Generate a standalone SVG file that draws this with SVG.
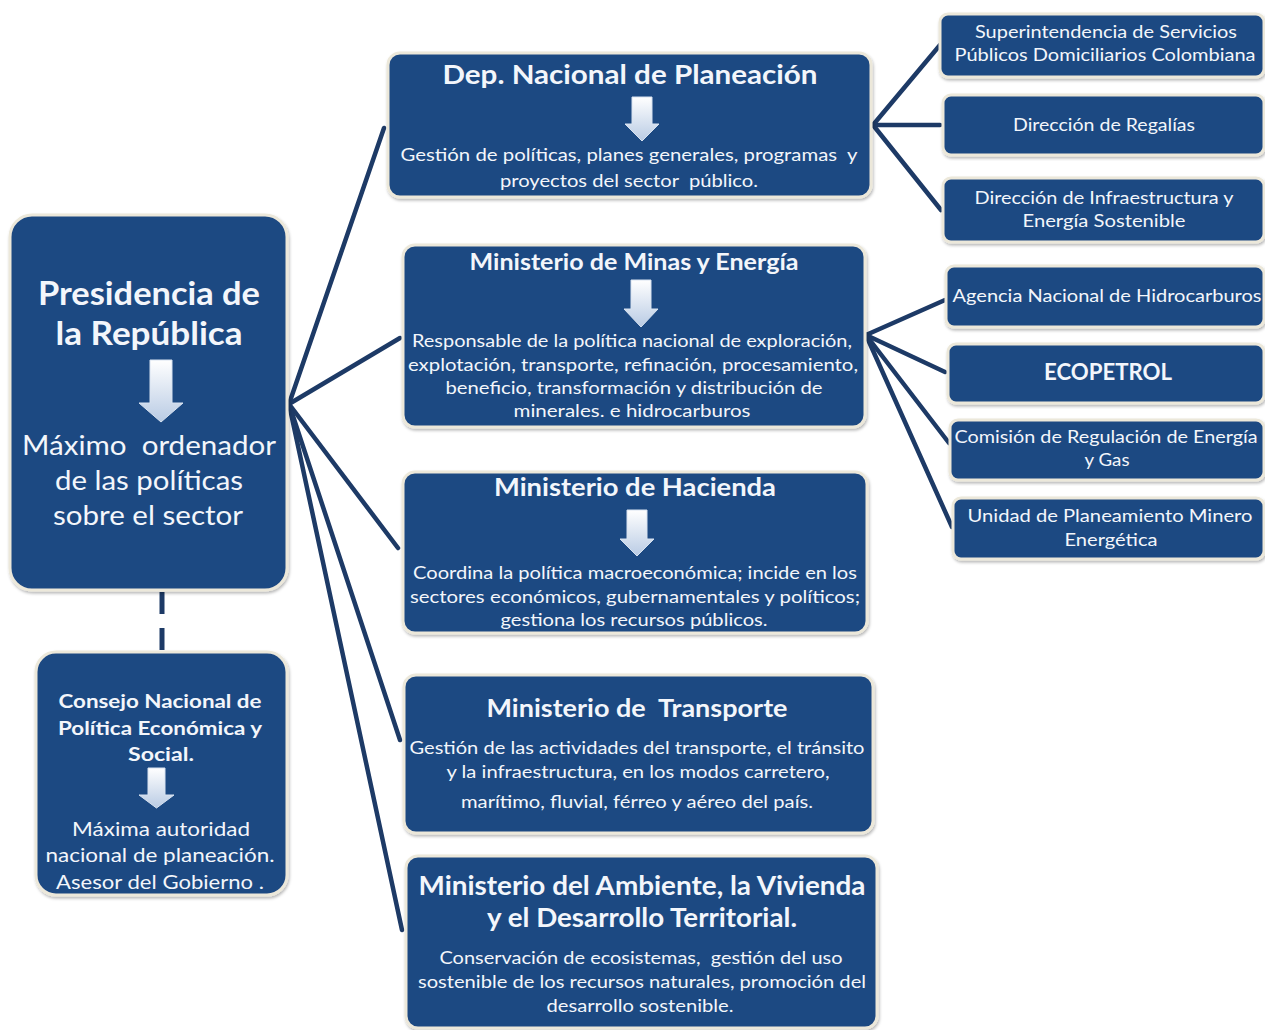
<svg xmlns="http://www.w3.org/2000/svg" width="1265" height="1030" viewBox="0 0 1265 1030">
  <defs>
    <linearGradient id="arrowFill" x1="0" y1="0" x2="0" y2="1">
      <stop offset="0" stop-color="#ffffff"/>
      <stop offset="1" stop-color="#b9cbe4"/>
    </linearGradient>
    <filter id="soft" x="-5%" y="-5%" width="110%" height="115%">
      <feDropShadow dx="1" dy="2" stdDeviation="1.5" flood-color="#000" flood-opacity="0.28"/>
    </filter>
  </defs>
  <style>
    .box { fill: #1f4882; stroke: #ece8da; stroke-width: 3; filter: url(#soft); }
    .link { stroke: #1d3a66; stroke-width: 4.5; fill: none; stroke-linecap: round; }
    .dash { stroke: #1d3a66; stroke-width: 5; fill: none; stroke-dasharray: 22 14; }
    .arrow { fill: url(#arrowFill); stroke: #d7e2f0; stroke-width: 1; }
    text { font-family: Lato, "Open Sans", "Liberation Sans", sans-serif; fill: #f3f6fb; text-anchor: middle; white-space: pre; }
    .b { font-weight: bold; }
    .t18 { font-size: 18px; }
    .t19 { font-size: 19px; }
    .t20 { font-size: 20px; }
    .t22 { font-size: 22px; }
    .t25 { font-size: 25px; }
    .t27 { font-size: 27px; }
    .t32 { font-size: 32px; }
  </style>
  <rect width="1265" height="1030" fill="#ffffff"/>

  <!-- connectors -->
  <g id="connectors">
    <line class="link" x1="289" y1="404" x2="384" y2="128"/>
    <line class="link" x1="289" y1="404" x2="400" y2="338"/>
    <line class="link" x1="289" y1="404" x2="398" y2="548"/>
    <line class="link" x1="289" y1="404" x2="400" y2="740"/>
    <line class="link" x1="289" y1="404" x2="402" y2="930"/>
    <line class="dash" x1="162" y1="592" x2="162" y2="651"/>
    <line class="link" x1="873" y1="125" x2="940" y2="45"/>
    <line class="link" x1="873" y1="125" x2="940" y2="125"/>
    <line class="link" x1="873" y1="125" x2="941" y2="210"/>
    <line class="link" x1="866" y1="335" x2="945" y2="300"/>
    <line class="link" x1="866" y1="335" x2="945" y2="372"/>
    <line class="link" x1="866" y1="335" x2="949" y2="443"/>
    <line class="link" x1="866" y1="335" x2="952" y2="527"/>
  </g>

  <!-- central node -->
  <g id="presidencia">
    <rect class="box" x="10" y="215" width="277" height="375" rx="22"/>
    <text class="b t32" x="149" y="305" textLength="222" lengthAdjust="spacingAndGlyphs">Presidencia de</text>
    <text class="b t32" x="149" y="345" textLength="187" lengthAdjust="spacingAndGlyphs">la República</text>
    <path class="arrow" d="M150 360 H172 V403 H183 L161 422 L139 403 H150 Z"/>
    <text class="t27" x="149" y="455" textLength="254" lengthAdjust="spacingAndGlyphs">Máximo  ordenador</text>
    <text class="t27" x="149" y="490" textLength="188" lengthAdjust="spacingAndGlyphs">de las políticas</text>
    <text class="t27" x="148" y="525" textLength="190" lengthAdjust="spacingAndGlyphs">sobre el sector</text>
  </g>

  <g id="consejo">
    <rect class="box" x="36" y="652" width="251" height="243" rx="20"/>
    <text class="b t19" x="160" y="708" textLength="203" lengthAdjust="spacingAndGlyphs">Consejo Nacional de</text>
    <text class="b t19" x="160" y="735" textLength="204" lengthAdjust="spacingAndGlyphs">Política Económica y</text>
    <text class="b t19" x="161" y="761" textLength="66" lengthAdjust="spacingAndGlyphs">Social.</text>
    <path class="arrow" d="M148 768 H165 V795 H174 L156.5 808 L139 795 H148 Z"/>
    <text class="t20" x="161" y="836" textLength="178" lengthAdjust="spacingAndGlyphs">Máxima autoridad</text>
    <text class="t20" x="160" y="862" textLength="229" lengthAdjust="spacingAndGlyphs">nacional de planeación.</text>
    <text class="t20" x="160" y="889" textLength="208" lengthAdjust="spacingAndGlyphs">Asesor del Gobierno .</text>
  </g>

  <!-- second level -->
  <g id="planeacion">
    <rect class="box" x="388" y="53" width="483" height="144" rx="12"/>
    <text class="b t27" x="630" y="84" textLength="375" lengthAdjust="spacingAndGlyphs">Dep. Nacional de Planeación</text>
    <path class="arrow" d="M632 97 H652 V124 H659 L642 141 L625 124 H632 Z"/>
    <text class="t18" x="629" y="161" textLength="457" lengthAdjust="spacingAndGlyphs">Gestión de políticas, planes generales, programas  y</text>
    <text class="t18" x="629" y="187" textLength="258" lengthAdjust="spacingAndGlyphs">proyectos del sector  público.</text>
  </g>

  <g id="minas">
    <rect class="box" x="403" y="245" width="462" height="182" rx="12"/>
    <text class="b t22" x="634" y="270" textLength="329" lengthAdjust="spacingAndGlyphs">Ministerio de Minas y Energía</text>
    <path class="arrow" d="M631 280 H651 V309 H658 L641 327 L624 309 H631 Z"/>
    <text class="t18" x="632" y="347" textLength="440" lengthAdjust="spacingAndGlyphs">Responsable de la política nacional de exploración,</text>
    <text class="t18" x="633" y="371" textLength="450" lengthAdjust="spacingAndGlyphs">explotación, transporte, refinación, procesamiento,</text>
    <text class="t18" x="634" y="394" textLength="377" lengthAdjust="spacingAndGlyphs">beneficio, transformación y distribución de</text>
    <text class="t18" x="632" y="417" textLength="237" lengthAdjust="spacingAndGlyphs">minerales. e hidrocarburos</text>
  </g>

  <g id="hacienda">
    <rect class="box" x="403" y="472" width="464" height="161" rx="12"/>
    <text class="b t25" x="635" y="496" textLength="282" lengthAdjust="spacingAndGlyphs">Ministerio de Hacienda</text>
    <path class="arrow" d="M627 510 H647 V539 H654 L637 556 L620 539 H627 Z"/>
    <text class="t18" x="635" y="579" textLength="444" lengthAdjust="spacingAndGlyphs">Coordina la política macroeconómica; incide en los</text>
    <text class="t18" x="635" y="603" textLength="450" lengthAdjust="spacingAndGlyphs">sectores económicos, gubernamentales y políticos;</text>
    <text class="t18" x="634" y="626" textLength="267" lengthAdjust="spacingAndGlyphs">gestiona los recursos públicos.</text>
  </g>

  <g id="transporte">
    <rect class="box" x="404" y="675" width="469" height="158" rx="12"/>
    <text class="b t25" x="637" y="717" textLength="301" lengthAdjust="spacingAndGlyphs">Ministerio de  Transporte</text>
    <text class="t18" x="637" y="754" textLength="455" lengthAdjust="spacingAndGlyphs">Gestión de las actividades del transporte, el tránsito</text>
    <text class="t18" x="638" y="778" textLength="383" lengthAdjust="spacingAndGlyphs">y la infraestructura, en los modos carretero,</text>
    <text class="t18" x="637" y="808" textLength="352" lengthAdjust="spacingAndGlyphs">marítimo, fluvial, férreo y aéreo del país.</text>
  </g>

  <g id="ambiente">
    <rect class="box" x="406" y="856" width="471" height="172" rx="12"/>
    <text class="b t27" x="642" y="895" textLength="447" lengthAdjust="spacingAndGlyphs">Ministerio del Ambiente, la Vivienda</text>
    <text class="b t27" x="642" y="927" textLength="310" lengthAdjust="spacingAndGlyphs">y el Desarrollo Territorial.</text>
    <text class="t18" x="641" y="964" textLength="403" lengthAdjust="spacingAndGlyphs">Conservación de ecosistemas,  gestión del uso</text>
    <text class="t18" x="642" y="988" textLength="448" lengthAdjust="spacingAndGlyphs">sostenible de los recursos naturales, promoción del</text>
    <text class="t18" x="640" y="1012" textLength="187" lengthAdjust="spacingAndGlyphs">desarrollo sostenible.</text>
  </g>

  <!-- third level -->
  <g id="superintendencia">
    <rect class="box" x="940" y="14" width="324" height="63" rx="8"/>
    <text class="t18" x="1106" y="38" textLength="262" lengthAdjust="spacingAndGlyphs">Superintendencia de Servicios</text>
    <text class="t18" x="1105" y="61" textLength="301" lengthAdjust="spacingAndGlyphs">Públicos Domiciliarios Colombiana</text>
  </g>

  <g id="regalias">
    <rect class="box" x="943" y="95" width="321" height="60" rx="8"/>
    <text class="t18" x="1104" y="131" textLength="182" lengthAdjust="spacingAndGlyphs">Dirección de Regalías</text>
  </g>

  <g id="infraestructura">
    <rect class="box" x="943" y="178" width="321" height="64" rx="8"/>
    <text class="t18" x="1104" y="204" textLength="259" lengthAdjust="spacingAndGlyphs">Dirección de Infraestructura y</text>
    <text class="t18" x="1104" y="227" textLength="163" lengthAdjust="spacingAndGlyphs">Energía Sostenible</text>
  </g>

  <g id="agencia">
    <rect class="box" x="946" y="266" width="318" height="61" rx="8"/>
    <text class="t18" x="1107" y="302" textLength="309" lengthAdjust="spacingAndGlyphs">Agencia Nacional de Hidrocarburos</text>
  </g>

  <g id="ecopetrol">
    <rect class="box" x="948" y="344" width="316" height="59" rx="8"/>
    <text class="b t22" x="1108" y="380" textLength="128" lengthAdjust="spacingAndGlyphs">ECOPETROL</text>
  </g>

  <g id="comision">
    <rect class="box" x="950" y="420" width="314" height="60" rx="8"/>
    <text class="t18" x="1106" y="443" textLength="303" lengthAdjust="spacingAndGlyphs">Comisión de Regulación de Energía</text>
    <text class="t18" x="1107" y="466" textLength="45" lengthAdjust="spacingAndGlyphs">y Gas</text>
  </g>

  <g id="upme">
    <rect class="box" x="953" y="498" width="311" height="61" rx="8"/>
    <text class="t18" x="1110" y="522" textLength="285" lengthAdjust="spacingAndGlyphs">Unidad de Planeamiento Minero</text>
    <text class="t18" x="1111" y="546" textLength="93" lengthAdjust="spacingAndGlyphs">Energética</text>
  </g>
</svg>
